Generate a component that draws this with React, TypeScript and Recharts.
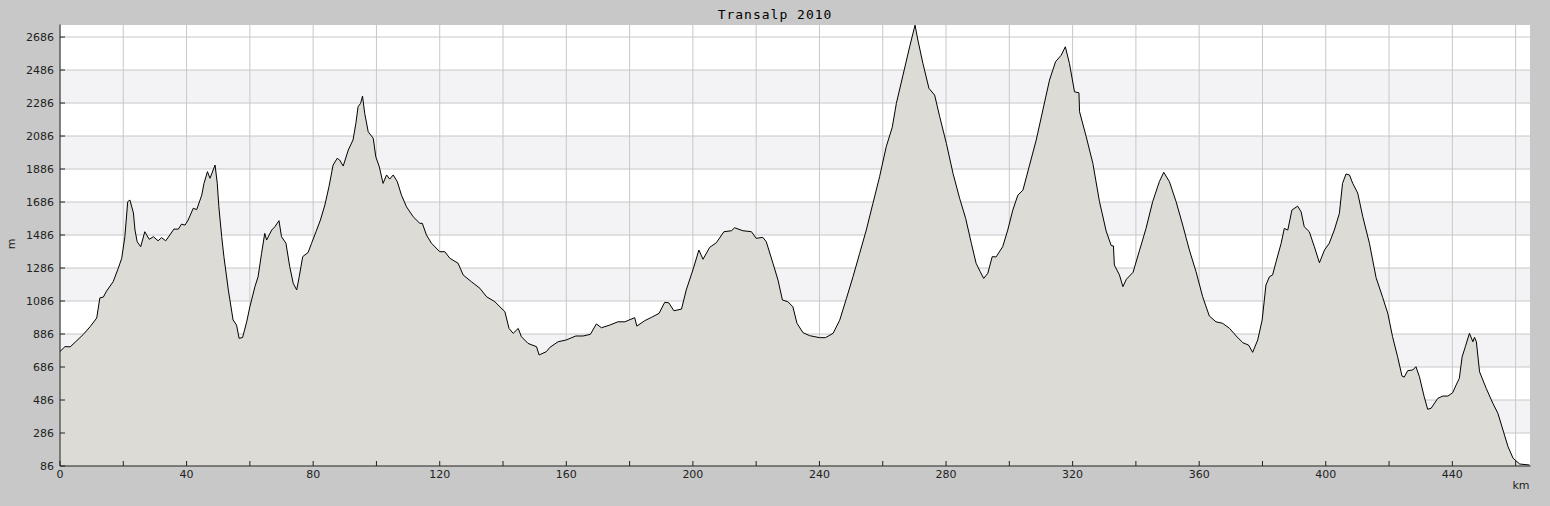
import React from 'react';
import { AreaChart, Area, XAxis, YAxis, CartesianGrid } from 'recharts';

// distance along the route (km)
const distanceKm = [
  0, 1.6, 3.2, 5, 7.4, 9.5, 11.6, 12.6, 13.7, 14.7, 16.8, 18.4, 19.5, 20.5, 21.4, 22.1, 23.2, 23.7, 24.4, 25.5,
  26.8, 28.2, 29.5, 31, 32.1, 33.4, 34.7, 36, 37.4, 38.4, 39.5, 40.5, 42.1, 43.2, 44.8, 45.5, 46.6, 47.4, 49, 49.7,
  50.2, 51.1, 51.8, 53.2, 54.7, 55.8, 56.6, 57.7, 59, 60, 61.6, 62.6, 63.7, 64.7, 65.3, 66.9, 67.9, 69.2, 70, 71.4,
  72.6, 73.7, 74.8, 75.6, 76.7, 78.4, 79.5, 80.9, 82.3, 83.7, 85, 86.3, 87.6, 88.4, 89.5, 91.1, 92.6, 93.5, 94.2, 95,
  95.6, 96.3, 97.4, 99, 99.8, 100.9, 102.1, 103.2, 104.2, 105.3, 106.6, 107.9, 109.5, 111.6, 113.7, 114.5, 115.8, 117.4, 120, 121.6,
  123.2, 125.8, 127.4, 130, 132.7, 134.8, 137.4, 140.6, 141.9, 143.2, 144.8, 145.8, 147.9, 150.6, 151.4, 153.7, 154.8, 157.4, 160, 163,
  165.3, 167.6, 169.5, 171.1, 173.7, 176.3, 178.5, 181.6, 182.3, 184.8, 186.9, 189.3, 191.1, 192.4, 194, 196.4, 197.9, 200, 201.9, 203.2,
  205.3, 207.4, 209.8, 212.2, 213.2, 215.8, 218.5, 220, 222.1, 223.2, 225.3, 226.9, 228.3, 230, 231.6, 232.9, 234.8, 236.9, 240, 241.9,
  244.3, 246.4, 248.5, 250.6, 252.7, 254.8, 256.9, 259, 261.1, 263, 264.3, 266.4, 268.5, 270.2, 271.1, 272.7, 274.6, 276.4, 278, 280.1,
  282.2, 284.3, 286.2, 288, 289.5, 290.8, 291.9, 293.2, 294.6, 295.8, 297.9, 299.5, 301.1, 302.7, 304.3, 306.4, 308.5, 310.6, 312.7, 314.6,
  316.4, 317.7, 319, 320.6, 322, 322.2, 324.3, 326.4, 328.5, 330.6, 332.2, 332.9, 333.2, 334.8, 335.9, 337, 339.1, 341.1, 343.2, 345.3,
  347.4, 348.8, 350.6, 352.7, 354.8, 356.9, 359, 361.1, 363.2, 365.3, 367.4, 369.6, 371.7, 373.8, 375.6, 376.9, 378.5, 379.9, 381.1, 382.2,
  383.2, 384.3, 385.9, 386.9, 388, 389.3, 391.1, 392.2, 393.2, 394.8, 396.4, 398, 399.6, 401.1, 402.7, 404.3, 405.3, 406.4, 407.5, 408.5,
  410.1, 411.7, 413.8, 415.9, 418, 419.6, 421.1, 422.7, 424.1, 424.8, 425.9, 427.5, 428.5, 429.6, 431.1, 432.2, 433.3, 435.4, 437, 438.6,
  440.1, 441.2, 442.2, 443.1, 444.1, 445.4, 446.5, 447, 447.6, 448.6, 450.7, 452.8, 454.4, 456, 457.6, 459.2, 461.3, 464.4,
];

// elevation (m)
const elevationM = [
  780, 810, 808, 840, 884, 930, 983, 1105, 1110, 1146, 1203, 1284, 1345, 1476, 1688, 1698, 1620, 1516, 1445, 1415,
  1506, 1460, 1476, 1451, 1470, 1451, 1486, 1522, 1522, 1552, 1546, 1577, 1648, 1640, 1728, 1799, 1870, 1830, 1910, 1800,
  1657, 1476, 1355, 1152, 971, 940, 860, 865, 960, 1051, 1173, 1233, 1375, 1496, 1456, 1516, 1536, 1573, 1476, 1436,
  1294, 1193, 1153, 1233, 1355, 1380, 1436, 1506, 1577, 1668, 1779, 1910, 1951, 1940, 1904, 2001, 2062, 2163, 2264, 2284,
  2328, 2223, 2112, 2072, 1960, 1900, 1799, 1850, 1825, 1850, 1809, 1728, 1657, 1597, 1557, 1557, 1486, 1436, 1385, 1385,
  1345, 1315, 1244, 1203, 1163, 1112, 1082, 1021, 920, 890, 920, 870, 829, 809, 759, 779, 805, 839, 850, 874,
  874, 884, 947, 924, 940, 960, 960, 985, 934, 967, 987, 1011, 1078, 1075, 1027, 1037, 1153, 1274, 1395, 1339,
  1411, 1439, 1506, 1512, 1530, 1512, 1506, 1466, 1472, 1445, 1315, 1213, 1092, 1082, 1051, 951, 894, 876, 864, 864,
  890, 970, 1100, 1233, 1375, 1516, 1678, 1839, 2021, 2139, 2284, 2455, 2627, 2758, 2668, 2526, 2375, 2334, 2203, 2042,
  1860, 1708, 1587, 1436, 1315, 1264, 1223, 1254, 1355, 1353, 1415, 1516, 1637, 1728, 1758, 1910, 2062, 2244, 2425, 2536,
  2576, 2627, 2526, 2354, 2348, 2233, 2082, 1920, 1688, 1510, 1422, 1420, 1304, 1244, 1173, 1218, 1260, 1390, 1526, 1688,
  1809, 1866, 1809, 1688, 1546, 1395, 1264, 1112, 995, 960, 951, 920, 874, 833, 819, 775, 850, 971, 1183, 1233,
  1244, 1324, 1436, 1526, 1516, 1637, 1661, 1627, 1536, 1506, 1415, 1318, 1395, 1436, 1516, 1617, 1799, 1856, 1850, 1800,
  1740, 1597, 1436, 1228, 1107, 1011, 870, 748, 631, 625, 664, 668, 688, 627, 506, 430, 436, 496, 510, 510,
  530, 577, 617, 748, 809, 890, 839, 866, 839, 657, 557, 466, 405, 304, 203, 133, 98, 92,
];

// axis ticks
const xMajorTicks = [0, 20, 40, 60, 80, 100, 120, 140, 160, 180, 200, 220, 240, 260, 280, 300, 320, 340, 360, 380, 400, 420, 440, 460];
const xMinorTicks = [10, 30, 50, 70, 90, 110, 130, 150, 170, 190, 210, 230, 250, 270, 290, 310, 330, 350, 370, 390, 410, 430, 450];
const xLabelValues = [0, 40, 80, 120, 160, 200, 240, 280, 320, 360, 400, 440];
const yMajorTicks = [86, 286, 486, 686, 886, 1086, 1286, 1486, 1686, 1886, 2086, 2286, 2486, 2686];
const yMinorTicks = [186, 386, 586, 786, 986, 1186, 1386, 1586, 1786, 1986, 2186, 2386, 2586];
const xDomain = [0, 464.7];
const yDomain = [86, 2762];

const chartTitle = 'Transalp 2010';
const yUnit = 'm';
const xUnit = 'km';

const SHADE = '#f3f2f5';
const bandFills = [
  'none', 'none', 'none', SHADE, 'none', SHADE, 'none', SHADE, 'none', SHADE, 'none', SHADE, 'none', SHADE, 'none',
];

const data = distanceKm.map((km, i) => ({ km, ele: elevationM[i] }));

const INK = '#222222';
const tickStyle = { fill: INK, fontSize: 11, fontFamily: 'DejaVu Sans' };

export default function App() {
  return (
    <div
      style={{
        position: 'absolute',
        left: 0,
        top: 0,
        width: 1550,
        height: 506,
        background: '#c8c8c8',
        fontFamily: 'DejaVu Sans',
        overflow: 'hidden',
      }}
    >
      <AreaChart
        width={1550}
        height={506}
        data={data}
        margin={{ top: 24.5, right: 19.5, bottom: 39.98, left: 59.98 }}
      >
        <CartesianGrid
          xAxisId="main"
          yAxisId="main"
          stroke="#c8c8c8"
          fill="#ffffff"
          fillOpacity={1}
          horizontalFill={bandFills}
        />
        <XAxis
          xAxisId="main"
          type="number"
          dataKey="km"
          domain={xDomain}
          allowDataOverflow
          ticks={xMajorTicks}
          interval={0}
          tickFormatter={(v: number) => (xLabelValues.includes(v) ? String(v) : '')}
          tickSize={-5}
          tickMargin={9}
          height={0.01}
          axisLine={{ stroke: INK }}
          tickLine={{ stroke: INK }}
          tick={tickStyle}
        />
        <XAxis
          xAxisId="minor"
          type="number"
          domain={xDomain}
          allowDataOverflow
          ticks={xMinorTicks}
          interval={0}
          tick={false}
          tickSize={-3}
          height={0.01}
          axisLine={false}
          tickLine={{ stroke: INK }}
        />
        <YAxis
          yAxisId="main"
          type="number"
          domain={yDomain}
          allowDataOverflow
          ticks={yMajorTicks}
          interval={0}
          tickSize={-5}
          tickMargin={11}
          width={0.01}
          axisLine={{ stroke: INK }}
          tickLine={{ stroke: INK }}
          tick={tickStyle}
        />
        <YAxis
          yAxisId="minor"
          type="number"
          domain={yDomain}
          allowDataOverflow
          ticks={yMinorTicks}
          interval={0}
          tick={false}
          tickSize={-3}
          width={0.01}
          axisLine={false}
          tickLine={{ stroke: INK }}
        />
        <Area
          xAxisId="main"
          yAxisId="main"
          type="linear"
          dataKey="ele"
          stroke="#000000"
          strokeWidth={1}
          fill="#dcdbd5"
          fillOpacity={1}
          dot={false}
          activeDot={false}
          isAnimationActive={false}
        />
      </AreaChart>
      <svg
        width={1550}
        height={506}
        style={{ position: 'absolute', left: 0, top: 0, pointerEvents: 'none' }}
      >
        <text
          x={775}
          y={18.5}
          textAnchor="middle"
          fill="#000"
          fontFamily="DejaVu Sans Mono"
          fontSize={13}
          letterSpacing={1}
        >
          {chartTitle}
        </text>
        <text
          transform="translate(15,244) rotate(-90)"
          textAnchor="middle"
          fill={INK}
          fontFamily="DejaVu Sans"
          fontSize={11}
        >
          {yUnit}
        </text>
        <text x={1529.5} y={489} textAnchor="end" fill={INK} fontFamily="DejaVu Sans" fontSize={11}>
          {xUnit}
        </text>
      </svg>
    </div>
  );
}
